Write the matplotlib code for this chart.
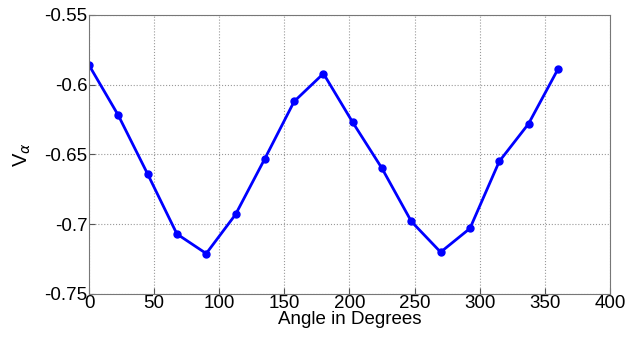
import matplotlib
matplotlib.use("Agg")
import matplotlib.pyplot as plt

angles = [0, 22.5, 45, 67.5, 90, 112.5, 135, 157.5, 180,
          202.5, 225, 247.5, 270, 292.5, 315, 337.5, 360]
v_alpha = [-0.586, -0.622, -0.664, -0.707, -0.721, -0.693, -0.653, -0.612, -0.592,
           -0.627, -0.660, -0.698, -0.720, -0.703, -0.655, -0.628, -0.589]
x_ticks = [0, 50, 100, 150, 200, 250, 300, 350, 400]
y_ticks = [-0.75, -0.7, -0.65, -0.6, -0.55]
y_labels = ["-0.75", "-0.7", "-0.65", "-0.6", "-0.55"]

plt.rcParams["font.family"] = ["Liberation Sans", "DejaVu Sans"]

fig = plt.figure(figsize=(6.36, 3.37), dpi=100)
ax = fig.add_axes([0.140, 0.1276, 0.819, 0.828])

ax.plot(angles, v_alpha, color="#0000ff", linewidth=2, marker="o", markersize=5)

ax.set_xlim(0, 400)
ax.set_ylim(-0.75, -0.55)
ax.set_xticks(x_ticks)
ax.set_yticks(y_ticks)
ax.set_yticklabels(y_labels)
ax.tick_params(direction="in", labelsize=13.5, length=4, color="#555555", pad=1)
ax.grid(True, linestyle=":", color="#999999", linewidth=0.8)
for s in ax.spines.values():
    s.set_color("#777777")

ax.set_xlabel("Angle in Degrees", fontsize=13.5, labelpad=-1)
ax.set_ylabel(r"V$_{\alpha}$", fontsize=14.5, labelpad=8)

fig.savefig("out.png", dpi=100)
